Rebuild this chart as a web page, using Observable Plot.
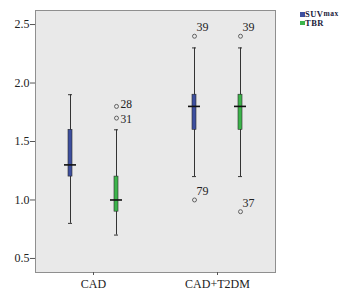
<!DOCTYPE html>
<html>
<head>
<meta charset="utf-8">
<script src="https://cdn.jsdelivr.net/npm/d3@7"></script>
<script src="https://cdn.jsdelivr.net/npm/@observablehq/plot@0.6"></script>
<style>
  body { margin: 0; background: #fff; }
  #wrap { position: relative; width: 355px; height: 294px; }
  #legend { position: absolute; left: 300px; top: 10px; font-family: "Liberation Serif", serif; font-weight: bold; font-size: 8.5px; line-height: 8.5px; letter-spacing: 0.5px; color: #1a1a3a; }
  #legend .row { display: flex; align-items: center; height: 8.5px; white-space: nowrap; }
  #legend .sw { width: 4.5px; height: 4.5px; margin-right: 0.5px; display: inline-block; }
  #legend .sub { font-size: 7.5px; }
</style>
</head>
<body>
<div id="wrap"></div>
<script>
const groups = ["CAD", "CAD+T2DM"];
const seriesNames = ["SUVmax", "TBR"];
const seriesColors = ["#3d4f9f", "#3cb44b"];

const suvMin = [0.8, 1.2];
const suvQ1 = [1.2, 1.6];
const suvMedian = [1.3, 1.8];
const suvQ3 = [1.6, 1.9];
const suvMax = [1.9, 2.3];

const tbrMin = [0.7, 1.2];
const tbrQ1 = [0.9, 1.6];
const tbrMedian = [1.0, 1.8];
const tbrQ3 = [1.2, 1.9];
const tbrMax = [1.6, 2.3];

const outlierGroup = ["CAD", "CAD", "CAD+T2DM", "CAD+T2DM", "CAD+T2DM", "CAD+T2DM"];
const outlierSeries = ["TBR", "TBR", "SUVmax", "SUVmax", "TBR", "TBR"];
const outlierValue = [1.8, 1.7, 2.4, 1.0, 2.4, 0.9];
const outlierLabel = ["28", "31", "39", "79", "39", "37"];

const yTicks = [0.5, 1.0, 1.5, 2.0, 2.5];

const stats = [
  {min: suvMin, q1: suvQ1, med: suvMedian, q3: suvQ3, max: suvMax},
  {min: tbrMin, q1: tbrQ1, med: tbrMedian, q3: tbrQ3, max: tbrMax}
];
const boxes = [];
seriesNames.forEach((s, si) => {
  groups.forEach((g, gi) => {
    const st = stats[si];
    boxes.push({group: g, series: s, min: st.min[gi], q1: st.q1[gi], med: st.med[gi], q3: st.q3[gi], max: st.max[gi]});
  });
});
const outliers = outlierValue.map((v, i) => ({group: outlierGroup[i], series: outlierSeries[i], value: v, label: outlierLabel[i]}));

const OFF = {SUVmax: -23, TBR: 23};
const colorOf = s => seriesColors[seriesNames.indexOf(s)];
const font = "Liberation Serif, serif";

const marks = [Plot.frame({fill: "#e9e9e9", stroke: "#8f8f8f"})];
for (const s of seriesNames) {
  const d = boxes.filter(b => b.series === s);
  const o = outliers.filter(b => b.series === s);
  const dx = OFF[s];
  const cad = o.filter(r => r.group === "CAD");
  marks.push(
    Plot.ruleX(d, {x: "group", y1: "min", y2: "max", dx, stroke: "#333", strokeWidth: 1}),
    Plot.tickY(d, {x: "group", y: "min", dx, insetLeft: 56, insetRight: 56, stroke: "#333", strokeWidth: 1}),
    Plot.tickY(d, {x: "group", y: "max", dx, insetLeft: 56, insetRight: 56, stroke: "#333", strokeWidth: 1}),
    Plot.barY(d, {x: "group", y1: "q1", y2: "q3", dx, insetLeft: 56, insetRight: 56, fill: colorOf(s), stroke: "#2a2a2a", strokeWidth: 0.6}),
    Plot.tickY(d, {x: "group", y: "med", dx, insetLeft: 52, insetRight: 52, stroke: "#111", strokeWidth: 1.6}),
    Plot.dot(o, {x: "group", y: "value", dx, r: 2, stroke: "#555", strokeWidth: 0.9, fill: "none"}),
    Plot.text(cad.slice(0, 1), {x: "group", y: "value", text: "label", dx: dx + 4, dy: -2, textAnchor: "start", fontFamily: font, fontSize: 11.5, fill: "#222"}),
    Plot.text(cad.slice(1), {x: "group", y: "value", text: "label", dx: dx + 4, dy: 1, textAnchor: "start", fontFamily: font, fontSize: 11.5, fill: "#222"}),
    Plot.text(o.filter(r => r.group !== "CAD"), {x: "group", y: "value", text: "label", dx: dx + 2, dy: -9, textAnchor: "start", fontFamily: font, fontSize: 12, fill: "#222"})
  );
}
marks.push(
  Plot.axisY({ticks: yTicks, tickFormat: d3.format(".1f"), tickSize: 5, tickPadding: 1, fontFamily: font, fontSize: 12, color: "#222", stroke: "#555"}),
  Plot.axisX({tickSize: 3, tickPadding: 4, fontFamily: font, fontSize: 12, color: "#222", stroke: "#555"})
);

const chart = Plot.plot({
  width: 355,
  height: 294,
  marginLeft: 35,
  marginRight: 80,
  marginTop: 10,
  marginBottom: 22,
  style: {fontFamily: font, fontSize: "12px", background: "#fff", color: "#222"},
  x: {type: "band", domain: groups, paddingInner: 0.065, paddingOuter: 0, label: null},
  y: {domain: [0.38, 2.62], label: null},
  marks
});
const wrap = document.getElementById("wrap");
wrap.appendChild(chart);

const legend = document.createElement("div");
legend.id = "legend";
seriesNames.forEach((s, i) => {
  const row = document.createElement("div");
  row.className = "row";
  const sw = document.createElement("span");
  sw.className = "sw";
  sw.style.background = seriesColors[i];
  row.appendChild(sw);
  if (s === "SUVmax") {
    row.appendChild(document.createTextNode("SUV"));
    const sub = document.createElement("span");
    sub.className = "sub";
    sub.textContent = "max";
    row.appendChild(sub);
  } else {
    row.appendChild(document.createTextNode(s));
  }
  legend.appendChild(row);
});
wrap.appendChild(legend);
</script>
</body>
</html>
